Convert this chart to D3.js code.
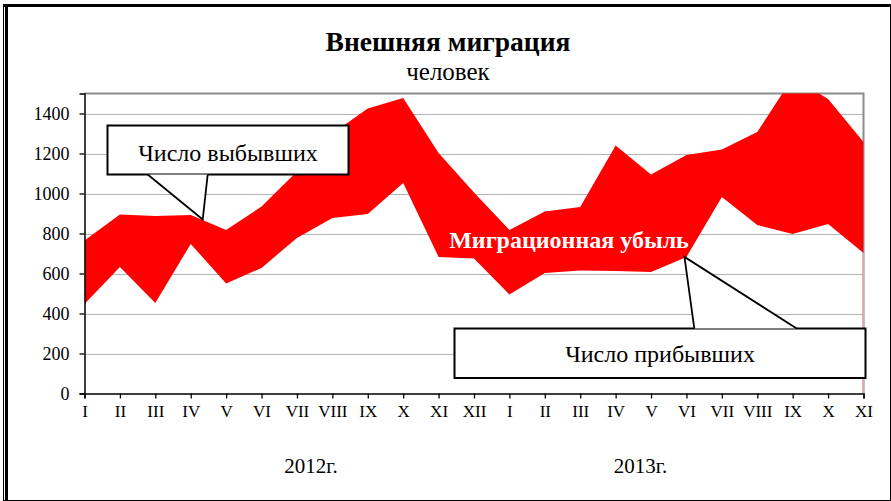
<!DOCTYPE html>
<html>
<head>
<meta charset="utf-8">
<script src="https://cdn.jsdelivr.net/npm/d3@7"></script>
<style>
  html, body { margin: 0; padding: 0; background: #fff; }
  svg { display: block; }
</style>
</head>
<body>
<svg id="chart" width="891" height="501"></svg>
<script>
// ---- data ----
const months = ["I","II","III","IV","V","VI","VII","VIII","IX","X","XI","XII",
                "I","II","III","IV","V","VI","VII","VIII","IX","X","XI"];
const outflow = [765, 895, 887, 893, 817, 935, 1110, 1300, 1425, 1478, 1203, 1005,
                 817, 910, 932, 1240, 1095, 1192, 1220, 1307, 1580, 1473, 1258];
const inflow  = [448, 632, 452, 748, 550, 628, 778, 878, 898, 1052, 683, 675,
                 495, 603, 615, 612, 608, 683, 982, 842, 798, 848, 703];
const yTicks = [0, 200, 400, 600, 800, 1000, 1200, 1400];
const years = [{label: "2012г.", at: 6.4}, {label: "2013г.", at: 15.7}];
const titleText = "Внешняя миграция";
const subtitleText = "человек";
const outLabel = "Число выбывших";
const inLabel = "Число прибывших";
const gapLabel = "Миграционная убыль";

const FONT = '"Liberation Serif", "Times New Roman", Tinos, "DejaVu Serif", serif';

// ---- layout ----
const svg = d3.select("#chart").attr("font-family", FONT);
const plot = {left: 84.5, right: 863.5, top: 93.5, bottom: 393.5};

const x = d3.scalePoint().domain(d3.range(months.length)).range([plot.left, plot.right]);
const xi = d3.scaleLinear().domain([0, months.length - 1]).range([plot.left, plot.right]);
const y = d3.scaleLinear().domain([0, 1500]).range([plot.bottom, plot.top]);

// frame
svg.append("line").attr("x1", 3.5).attr("x2", 3.5).attr("y1", 4).attr("y2", 501).attr("stroke", "#000").attr("stroke-width", 1);
svg.append("line").attr("x1", 6.5).attr("x2", 6.5).attr("y1", 4).attr("y2", 501).attr("stroke", "#000").attr("stroke-width", 3);
svg.append("line").attr("x1", 3).attr("x2", 891).attr("y1", 5.5).attr("y2", 5.5).attr("stroke", "#000").attr("stroke-width", 3);
svg.append("line").attr("x1", 890.5).attr("x2", 890.5).attr("y1", 4).attr("y2", 501).attr("stroke", "#000").attr("stroke-width", 1);
svg.append("line").attr("x1", 3).attr("x2", 891).attr("y1", 500.5).attr("y2", 500.5).attr("stroke", "#000").attr("stroke-width", 1);

function txt(sel) { return sel.style("font-family", FONT); }

// titles
txt(svg.append("text")).attr("x", 448).attr("y", 51).attr("text-anchor", "middle")
  .attr("font-size", 27.5).attr("font-weight", "bold").text(titleText);
txt(svg.append("text")).attr("x", 448).attr("y", 80).attr("text-anchor", "middle")
  .attr("font-size", 25).text(subtitleText);

// gridlines
svg.append("g").selectAll("line").data(yTicks.filter(d => d > 0)).join("line")
  .attr("x1", plot.left).attr("x2", plot.right)
  .attr("y1", d => Math.round(y(d)) + 0.5).attr("y2", d => Math.round(y(d)) + 0.5)
  .attr("stroke", "#b4b4b4").attr("stroke-width", 1.2);

// plot border (top & right)
svg.append("path")
  .attr("d", `M${plot.left},${plot.top}H${plot.right}V${plot.bottom}`)
  .attr("fill", "none").attr("stroke", "#8c8c8c").attr("stroke-width", 2);

// clip
svg.append("clipPath").attr("id", "clip").append("rect")
  .attr("x", plot.left).attr("y", plot.top).attr("width", plot.right - plot.left).attr("height", plot.bottom - plot.top);

// band area
const area = d3.area()
  .x((d, i) => x(i))
  .y0((d, i) => y(inflow[i]))
  .y1((d, i) => y(outflow[i]));
svg.append("path").datum(months)
  .attr("clip-path", "url(#clip)")
  .attr("d", area)
  .attr("fill", "#ff0000");

// pinkish edge at right below band
const last = months.length - 1;
svg.append("line")
  .attr("x1", x(last)).attr("x2", x(last))
  .attr("y1", y(inflow[last])).attr("y2", y(0))
  .attr("stroke", "#e8a4a8").attr("stroke-width", 1.5);

// y axis
const yAxis = d3.axisLeft(y).tickValues(yTicks).tickSize(5).tickPadding(10).tickFormat(d3.format("d"));
const gy = svg.append("g").attr("transform", `translate(${plot.left},0)`).call(yAxis);
gy.attr("font-family", null);
gy.select(".domain").attr("stroke", "#000").attr("stroke-width", 1.5);
gy.selectAll(".tick line").attr("stroke", "#000").attr("stroke-width", 1.3);
txt(gy.selectAll(".tick text")).attr("font-size", 18).attr("fill", "#000");

// x axis
const xAxis = d3.axisBottom(x).tickSize(5).tickPadding(6).tickFormat(i => months[i]);
const gx = svg.append("g").attr("transform", `translate(0,${plot.bottom})`).call(xAxis);
gx.attr("font-family", null);
gx.select(".domain").attr("stroke", "#000").attr("stroke-width", 1.5);
gx.selectAll(".tick line").attr("stroke", "#000").attr("stroke-width", 1.3);
txt(gx.selectAll(".tick text")).attr("font-size", 17).attr("fill", "#000");

// year labels
txt(svg.append("g").selectAll("text").data(years).join("text"))
  .attr("x", d => xi(d.at))
  .attr("y", 473)
  .attr("text-anchor", "middle")
  .attr("font-size", 21)
  .text(d => d.label);

// band label
txt(svg.append("text")).attr("x", 569).attr("y", 248).attr("text-anchor", "middle")
  .attr("font-size", 24).attr("font-weight", "bold").attr("fill", "#fff").text(gapLabel);

// callouts
function callout(box, tip, ptrA, ptrB, label, tx, ty) {
  const g = svg.append("g");
  const edgeY = tip[1] > box.y + box.h ? box.y + box.h : box.y;
  g.append("path")
    .attr("d", `M${box.x},${box.y}H${box.x + box.w}V${box.y + box.h}H${box.x}Z`)
    .attr("fill", "#fff").attr("stroke", "#000").attr("stroke-width", 2);
  g.append("path")
    .attr("d", `M${ptrA},${edgeY}L${tip[0]},${tip[1]}L${ptrB},${edgeY}Z`)
    .attr("fill", "#fff").attr("stroke", "none");
  g.append("path")
    .attr("d", `M${ptrA},${edgeY}L${tip[0]},${tip[1]}L${ptrB},${edgeY}`)
    .attr("fill", "none").attr("stroke", "#000").attr("stroke-width", 1.8);
  txt(g.append("text")).attr("x", tx).attr("y", ty).attr("text-anchor", "middle")
    .attr("font-size", 24).text(label);
}
callout({x: 107.5, y: 125.5, w: 241, h: 49}, [202.7, 219.5], 147.7, 207.7, outLabel, 228, 161);
callout({x: 454.5, y: 328.5, w: 411, h: 49.5}, [x(17) - 2, y(inflow[17])], 694.3, 796.7, inLabel, 660, 362);
</script>
</body>
</html>
